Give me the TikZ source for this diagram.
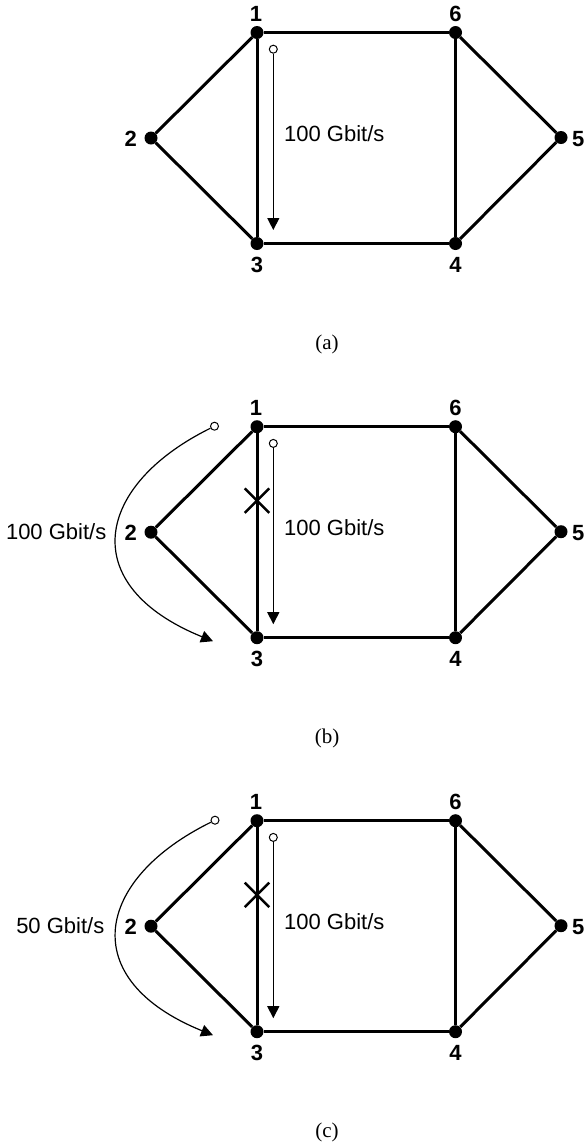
\documentclass[tikz,border=0pt]{standalone}
\usepackage{fontspec}
\setmainfont{Liberation Sans}
\newfontfamily\capfont{Liberation Serif}
\usetikzlibrary{arrows.meta,shapes.misc}
\begin{document}
\begin{tikzpicture}[x=1pt,y=-1pt,
  dot/.style={circle,fill=black,inner sep=0pt,minimum size=13pt},
  lbl/.style={font=\fontsize{22}{24}\selectfont\bfseries,inner sep=0pt},
  edge/.style={line width=3pt},
  flow/.style={line width=1.2pt,-{Triangle[width=12pt,length=12pt]}},
  src/.style={circle,draw=black,fill=white,line width=1pt,inner sep=0pt,minimum size=8pt},
  rate/.style={font=\fontsize{22}{24}\selectfont,inner sep=0pt},
  captext/.style={font=\capfont\fontsize{21}{24}\selectfont,inner sep=0pt},
  fail/.style={draw=black,cross out,line width=2.5pt,inner sep=0pt,minimum size=22pt}]
\useasboundingbox (0,0) rectangle (587,1144);
\foreach \p/\o in {a/0, b/394.2, c/788.2}{
  \node[dot] (\p1) at (257,32.5+\o) {};
  \node[dot] (\p6) at (455.5,32.5+\o) {};
  \node[dot] (\p2) at (151,138+\o) {};
  \node[dot] (\p5) at (561,137.5+\o) {};
  \node[dot] (\p3) at (257,243.5+\o) {};
  \node[dot] (\p4) at (455.5,243.5+\o) {};
  \node[lbl,anchor=base] (\p L1) at (256,21.7+\o) {1};
  \node[lbl,anchor=base] (\p L6) at (455.5,21.7+\o) {6};
  \node[lbl,anchor=base] (\p L3) at (257,272.6+\o) {3};
  \node[lbl,anchor=base] (\p L4) at (455.5,272.6+\o) {4};
  \node[lbl,anchor=base east] (\p L2) at (137,146.3+\o) {2};
  \node[lbl,anchor=base west] (\p L5) at (572,146.3+\o) {5};
  \draw[edge] (\p1) -- (\p6);
  \draw[edge] (\p6) -- (\p5);
  \draw[edge] (\p5) -- (\p4);
  \draw[edge] (\p4) -- (\p3);
  \draw[edge] (\p3) -- (\p2);
  \draw[edge] (\p2) -- (\p1);
  \draw[edge] (\p1) -- (\p3);
  \draw[edge] (\p6) -- (\p4);
  \node[src] (\p s) at (273.3,49.2+\o) {};
  \coordinate (\p e) at (273.3,230+\o);
  \draw[flow] (\p s) -- (\p e);
  \node[rate,anchor=base west] (\p r) at (284,141.7+\o) {100 Gbit/s};
}
\node[captext] (acap) at (327,344) {(a)};
\node[captext] (bcap) at (327,738.2) {(b)};
\node[captext] (ccap) at (327,1132.2) {(c)};
% failure marks
\node[fail] (bx) at (257,500.7) {};
\node[fail] (cx) at (257,894.9) {};
% rerouted traffic
\node[src] (bs2) at (214.5,426.2) {};
\coordinate (be2) at (213,641.2);
\draw[flow] (bs2) .. controls (95,485.2) and (75,585.2) .. (be2);
\node[rate,anchor=base east] (br2) at (106.5,539.5) {100 Gbit/s};
\node[src] (cs2) at (215,820.2) {};
\coordinate (ce2) at (213,1035.2);
\draw[flow] (cs2) .. controls (95,879.2) and (75,979.2) .. (ce2);
\node[rate,anchor=base east] (cr2) at (104.5,933.5) {50 Gbit/s};
\end{tikzpicture}
\end{document}
